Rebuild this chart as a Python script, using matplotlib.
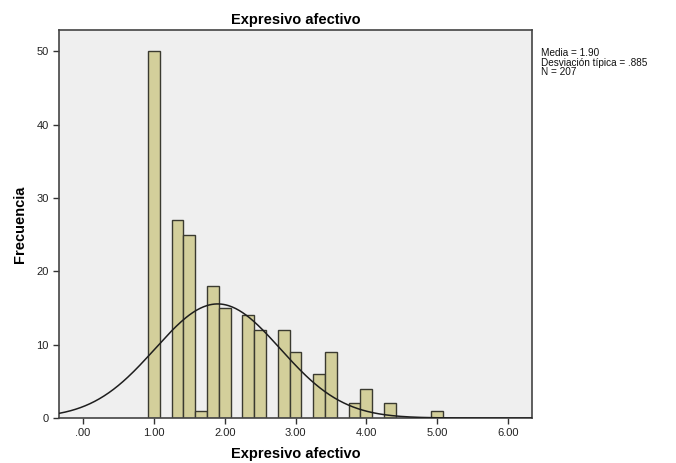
import numpy as np
import matplotlib
matplotlib.use("Agg")
import matplotlib.pyplot as plt

plt.rcParams['font.family'] = ['Liberation Sans', 'DejaVu Sans']

values = [1.0, 1.3333, 1.5, 1.6667, 1.8333, 2.0, 2.3333, 2.5, 2.8333, 3.0,
          3.3333, 3.5, 3.8333, 4.0, 4.3333, 5.0]
counts = [50, 27, 25, 1, 18, 15, 14, 12, 12, 9, 6, 9, 2, 4, 2, 1]
mean = 1.90
sd = 0.885
n = 207
bin_width = 1 / 6
xticks = [0, 1, 2, 3, 4, 5, 6]
xticklabels = [".00", "1.00", "2.00", "3.00", "4.00", "5.00", "6.00"]
yticks = [0, 10, 20, 30, 40, 50]

fig = plt.figure(figsize=(6.76, 4.63), dpi=100)
ax = fig.add_axes([0.0873, 0.0972, 0.6998, 0.838])
ax.set_facecolor('#EFEFEF')

ax.bar(values, counts, width=bin_width, color='#D3CF9B', edgecolor='#3A3A30',
       linewidth=1.0, align='center', zorder=2)

xs = np.linspace(-0.34, 6.34, 400)
ys = n * bin_width / (sd * np.sqrt(2 * np.pi)) * np.exp(-0.5 * ((xs - mean) / sd) ** 2)
ax.plot(xs, ys, color='#1E1E1E', linewidth=1.1, zorder=3)

ax.set_xlim(-0.34, 6.34)
ax.set_ylim(0, 52.9)
ax.set_xticks(xticks)
ax.set_xticklabels(xticklabels)
ax.set_yticks(yticks)
ax.tick_params(direction='out', length=4, width=1, colors='#333333', labelsize=8,
               labelcolor='#222222')
for s in ax.spines.values():
    s.set_color('#444444')
    s.set_linewidth(1.2)

ax.set_title('Expresivo afectivo', fontsize=10.5, fontweight='bold', pad=4)
ax.set_xlabel('Expresivo afectivo', fontsize=10.5, fontweight='bold', labelpad=6)
ax.set_ylabel('Frecuencia', fontsize=10.5, fontweight='bold', labelpad=7)

fig.text(541 / 676, 1 - 48 / 463,
         'Media = 1.90\nDesviación típica = .885\nN = 207',
         fontsize=7.2, va='top', ha='left', linespacing=0.95, color='#111111')

fig.savefig('out.png', dpi=100, facecolor='white')
